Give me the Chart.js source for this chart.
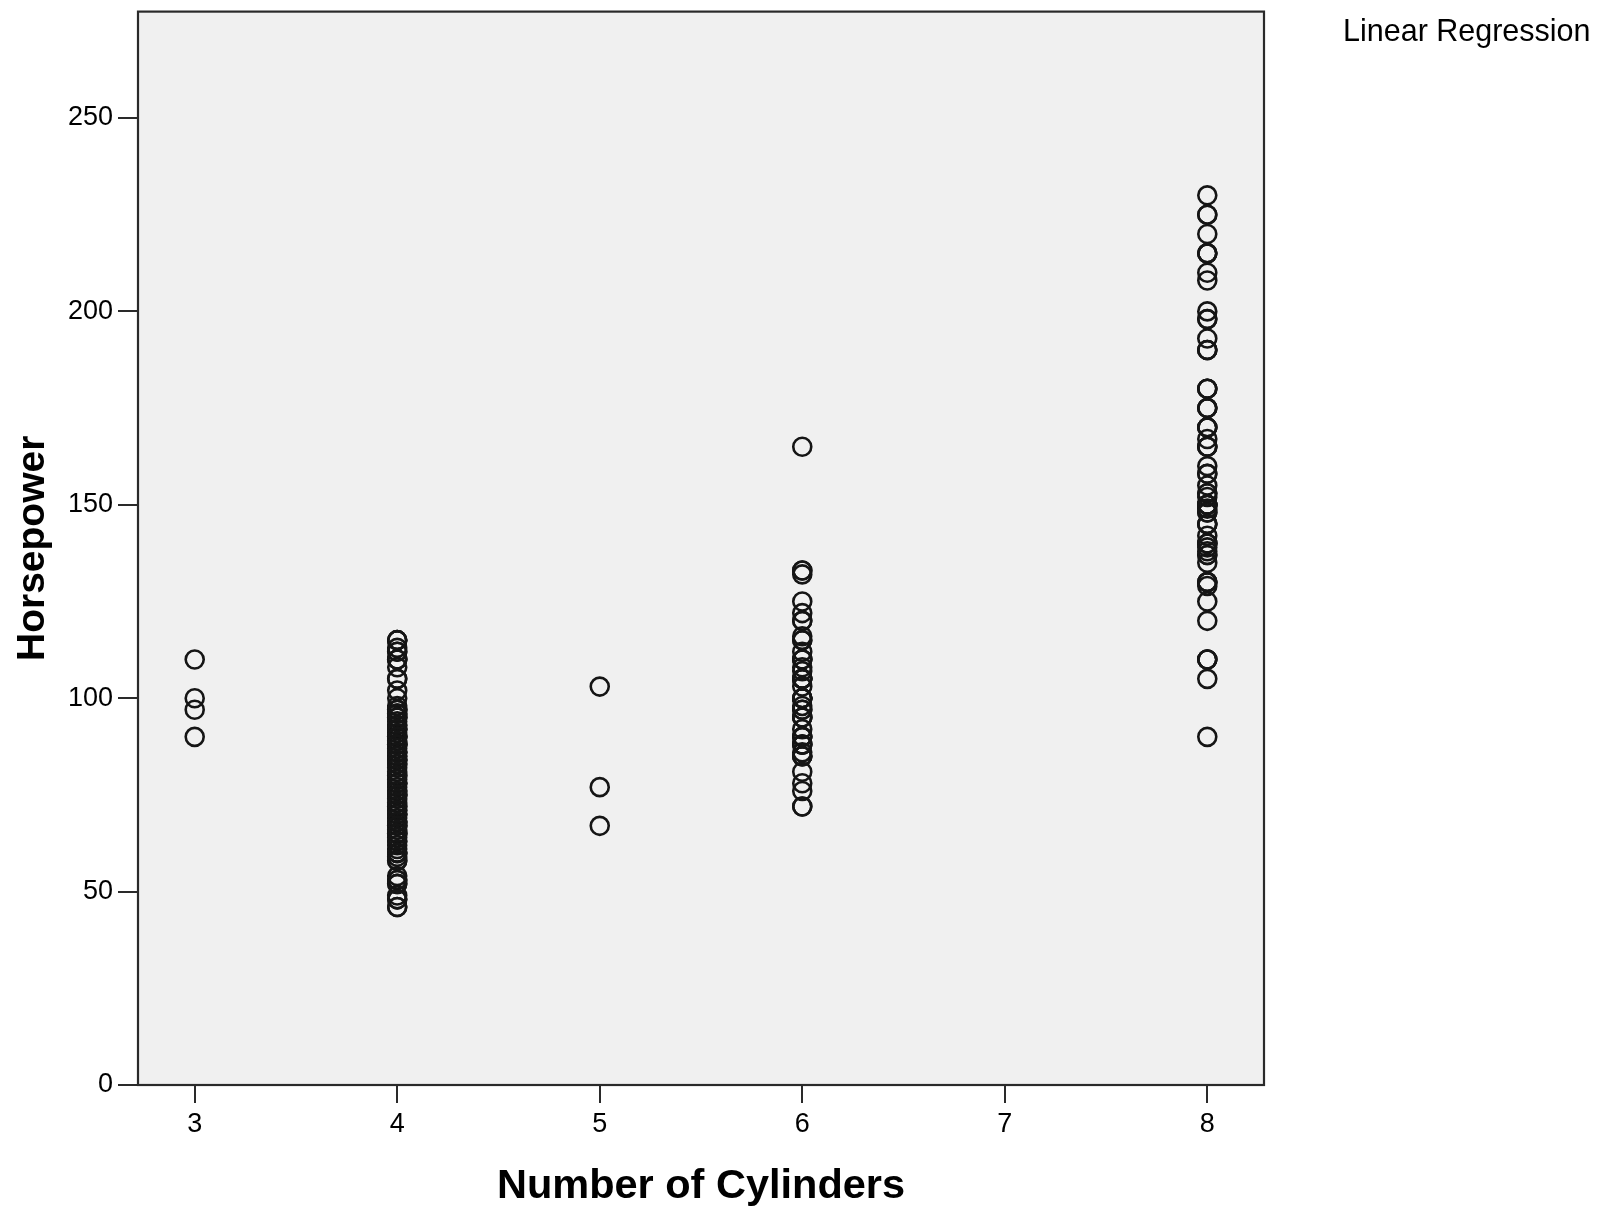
<!DOCTYPE html>
<html>
<head>
<meta charset="utf-8">
<title>Horsepower by Number of Cylinders</title>
<script src="https://cdn.jsdelivr.net/npm/chart.js@4/dist/chart.umd.min.js"></script>
<style>
    html, body { margin: 0; padding: 0; background: #FFF; }
    #wrap { width: 1604px; height: 1208px; }
</style>
</head>
<body>
<div id="wrap"><canvas id="chart"></canvas></div>
<script>
// values (horsepower per car, grouped by cylinders)
const cylinders = [3, 4, 5, 6, 8];
const hp3 = [110, 100, 97, 90];
const hp4 = [115, 115, 115, 113, 112, 112, 110, 110, 110, 108, 105, 105, 102, 100, 98, 97, 97, 97, 96, 96,
    95, 95, 95, 94, 93, 93, 92, 92, 92, 91, 90, 90, 90, 90, 89, 88, 88, 88, 88, 87, 86, 86, 86, 85, 85,
    84, 84, 84, 83, 83, 82, 81, 80, 80, 79, 78, 78, 78, 77, 76, 76, 75, 75, 75, 74, 73, 72, 72, 71, 71,
    70, 70, 70, 69, 68, 68, 68, 67, 67, 67, 66, 65, 65, 65, 64, 63, 63, 62, 61, 60, 60, 60, 59, 58, 58,
    54, 53, 53, 52, 52, 49, 48, 48, 46, 46];
const hp5 = [103, 77, 67];
const hp6 = [165, 133, 133, 132, 125, 122, 120, 120, 116, 115, 115, 112, 110, 110, 110, 108, 107, 105, 105,
    105, 105, 103, 100, 100, 100, 100, 100, 98, 97, 97, 95, 95, 95, 92, 90, 90, 90, 88, 88, 88, 86, 85,
    85, 85, 81, 78, 76, 72, 72];
const hp8 = [230, 225, 225, 220, 215, 215, 215, 210, 208, 200, 198, 198, 193, 190, 190, 190, 180, 180, 180,
    175, 175, 175, 170, 170, 170, 167, 165, 165, 165, 160, 158, 158, 155, 153, 153, 152, 150, 150, 150, 150,
    150, 149, 148, 148, 145, 145, 145, 142, 140, 140, 140, 139, 138, 137, 137, 135, 130, 130, 130, 129, 125,
    120, 110, 110, 110, 105, 90];
const xTicks = [3, 4, 5, 6, 7, 8];
const yTicks = [0, 50, 100, 150, 200, 250];
const xTitle = "Number of Cylinders";
const yTitle = "Horsepower";
const legendLabel = "Linear Regression";

(() => {
    const $ = query => document.querySelector(query);
    const groups = [hp3, hp4, hp5, hp6, hp8];
    const points = cylinders.flatMap((c, i) => groups[i].map(hp => ({ x: c, y: hp })));

    Chart.defaults.font.family = "'Liberation Sans', Arial, sans-serif";
    Chart.defaults.color = "#000";

    // grey plot panel with dark frame, like SPSS
    const panel = {
        id: "panel",
        beforeDatasetsDraw: chart => {
            const { ctx, chartArea: { left, top, right, bottom } } = chart;
            ctx.save();
            ctx.fillStyle = "#F0F0F0";
            ctx.fillRect(left, top, right - left, bottom - top);
            ctx.strokeStyle = "#2A2A2A";
            ctx.lineWidth = 2.2;
            ctx.strokeRect(left, top, right - left, bottom - top);
            ctx.restore();
        },
        afterDraw: chart => {
            const ctx = chart.ctx;
            ctx.save();
            ctx.font = "30.5px 'Liberation Sans', Arial, sans-serif";
            ctx.fillStyle = "#000";
            ctx.textBaseline = "middle";
            ctx.fillText(legendLabel, chart.chartArea.right + 79, 33);
            ctx.restore();
        }
    };

    const tickGrid = { drawOnChartArea: false, drawTicks: true, color: "#2A2A2A", lineWidth: 2 };

    new Chart($("#chart"), {
        type: "scatter",
        data: {
            datasets: [{
                label: yTitle,
                data: points,
                pointRadius: 9,
                pointHoverRadius: 9,
                pointBorderWidth: 2.6,
                pointBorderColor: "#151515",
                pointBackgroundColor: "rgba(0,0,0,0)"
            }]
        },
        options: {
            responsive: true,
            maintainAspectRatio: false,
            animation: false,
            layout: { padding: { top: 11, right: 340, bottom: 0, left: 0 } },
            plugins: {
                legend: { display: false },
                tooltip: { enabled: false }
            },
            scales: {
                x: {
                    type: "linear",
                    min: 2.72,
                    max: 8.28,
                    border: { display: false },
                    grid: { ...tickGrid, tickLength: 18 },
                    afterBuildTicks: scale => { scale.ticks = xTicks.map(value => ({ value })); },
                    ticks: { font: { size: 27 }, padding: 5, maxRotation: 0 },
                    title: {
                        display: true,
                        text: xTitle,
                        font: { size: 41.5, weight: "bold", lineHeight: 1.05 },
                        padding: { top: 0, bottom: 0 }
                    },
                    afterFit: scale => {
                        scale.height = 123;
                        scale.paddingLeft = 0;
                        scale.paddingRight = 0;
                    }
                },
                y: {
                    type: "linear",
                    min: 0,
                    max: 277.5,
                    border: { display: false },
                    grid: { ...tickGrid, tickLength: 20 },
                    afterBuildTicks: scale => { scale.ticks = yTicks.map(value => ({ value })); },
                    ticks: { font: { size: 27 }, padding: 5 },
                    title: {
                        display: true,
                        text: yTitle,
                        font: { size: 39, weight: "bold" },
                        padding: { top: 10, bottom: 0 }
                    },
                    afterFit: scale => {
                        scale.width = 138;
                        scale.paddingTop = 0;
                        scale.paddingBottom = 0;
                    }
                }
            }
        },
        plugins: [panel]
    });
})();
</script>
</body>
</html>
